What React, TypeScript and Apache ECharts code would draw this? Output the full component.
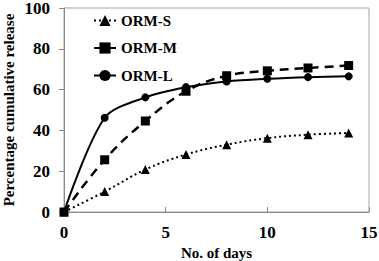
import React, { useEffect, useRef } from "react";
import * as echarts from "echarts";

const days = [0, 2, 4, 6, 8, 10, 12, 14];
const ormS = [0, 10, 20.8, 28.2, 33, 36.2, 37.9, 38.7];
const ormM = [0, 25.6, 44.6, 59.2, 66.8, 69.2, 70.6, 71.8];
const ormL = [0, 46.2, 56.2, 61.2, 64, 65.3, 66.1, 66.5];
const xTicks = [0, 5, 10, 15];
const yTicks = [0, 20, 40, 60, 80, 100];

const pair = (ys: number[]) => days.map((d, i) => [d, ys[i]]);

export default function App() {
  const ref = useRef<HTMLDivElement>(null);
  useEffect(() => {
    if (!ref.current) return;
    const chart = echarts.init(ref.current, undefined, { renderer: "svg" });
    const font = "Liberation Serif";
    chart.setOption({
      animation: false,
      textStyle: { fontFamily: font },
      grid: {
        left: 64,
        right: 10,
        top: 8,
        bottom: 49,
        containLabel: false,
        outerBoundsMode: "none",
        show: true,
        borderColor: "#a6a6a6",
        borderWidth: 1,
      },
      legend: {
        orient: "vertical",
        left: 88,
        top: 8,
        itemWidth: 22,
        itemHeight: 14,
        itemGap: 12.5,
        textStyle: { fontFamily: font, fontWeight: "bold", fontSize: 15, color: "#000" },
        data: ["ORM-S", "ORM-M", "ORM-L"],
      },
      xAxis: {
        type: "value",
        min: xTicks[0],
        max: xTicks[xTicks.length - 1],
        interval: 5,
        name: "No. of days",
        nameLocation: "middle",
        nameGap: 33,
        nameMoveOverlap: false,
        nameTextStyle: { fontFamily: font, fontWeight: "bold", fontSize: 15, color: "#000" },
        axisLine: { lineStyle: { color: "#888", width: 1 } },
        axisTick: { inside: true, length: 5, lineStyle: { color: "#888" } },
        axisLabel: { fontFamily: font, fontWeight: "bold", fontSize: 17, color: "#000", margin: 12 },
        splitLine: { show: false },
      },
      yAxis: {
        type: "value",
        min: yTicks[0],
        max: yTicks[yTicks.length - 1],
        interval: 20,
        name: "Percentage cumulative release",
        nameLocation: "middle",
        nameGap: 48,
        nameMoveOverlap: false,
        nameTextStyle: { fontFamily: font, fontWeight: "bold", fontSize: 15, color: "#000" },
        axisLine: { show: true, lineStyle: { color: "#888", width: 1 } },
        axisTick: { show: true, inside: false, length: 5, lineStyle: { color: "#888" } },
        axisLabel: { fontFamily: font, fontWeight: "bold", fontSize: 17, color: "#000", margin: 14 },
        splitLine: { show: false },
      },
      series: [
        {
          name: "ORM-S",
          type: "line",
          data: pair(ormS),
          smooth: 0.4,
          symbol: "triangle",
          symbolSize: 9,
          itemStyle: { color: "#000" },
          lineStyle: { color: "#000", width: 2, type: [2, 3] },
        },
        {
          name: "ORM-M",
          type: "line",
          data: pair(ormM),
          smooth: 0.4,
          symbol: "rect",
          symbolSize: 9,
          itemStyle: { color: "#000" },
          lineStyle: { color: "#000", width: 2.5, type: [9, 6] },
        },
        {
          name: "ORM-L",
          type: "line",
          data: pair(ormL),
          smooth: 0.3,
          symbol: "circle",
          symbolSize: 8,
          itemStyle: { color: "#000" },
          lineStyle: { color: "#000", width: 2 },
        },
      ],
    });
    return () => chart.dispose();
  }, []);
  return <div ref={ref} style={{ width: 379, height: 261, position: "absolute", left: 0, top: 0 }} />;
}
